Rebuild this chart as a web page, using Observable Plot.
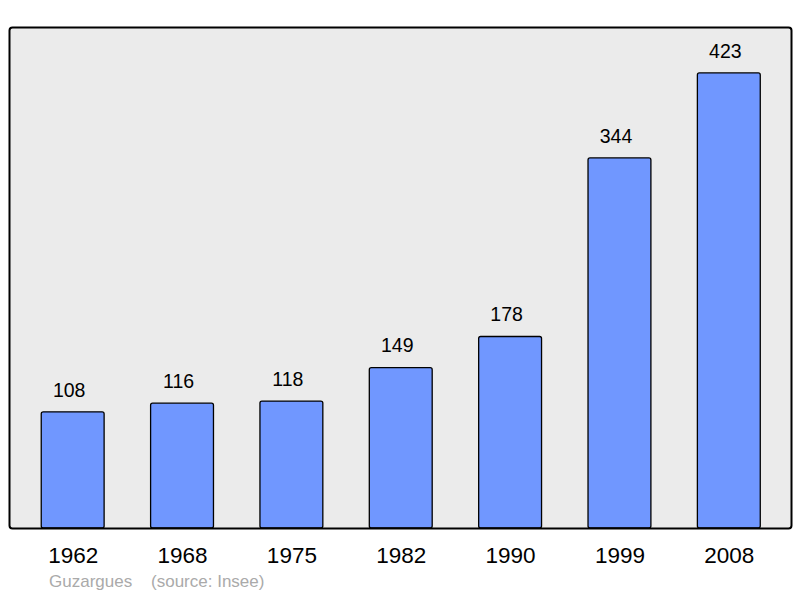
<!DOCTYPE html>
<html>
<head>
<meta charset="utf-8">
<script src="https://cdn.jsdelivr.net/npm/d3@7"></script>
<script src="https://cdn.jsdelivr.net/npm/@observablehq/plot@0.6"></script>
<style>
  html, body { margin: 0; padding: 0; background: #ffffff; }
  #chart { position: relative; width: 800px; height: 598px; }
  #caption { position: absolute; left: 49px; top: 572px; font-family: "Liberation Sans", Arial, sans-serif; font-size: 17px; color: #aaaaaa; white-space: pre; }
</style>
</head>
<body>
<div id="chart"><div id="caption">Guzargues    (source: Insee)</div></div>
<script>
const years = ["1962", "1968", "1975", "1982", "1990", "1999", "2008"];
const population = [108, 116, 118, 149, 178, 344, 423];

const data = years.map((year, i) => ({year, value: population[i]}));

const plot = Plot.plot({
  width: 800,
  height: 570,
  marginTop: 27,
  marginBottom: 42,
  marginLeft: 9,
  marginRight: 9,
  style: {fontFamily: "Liberation Sans, Arial, sans-serif", background: "transparent"},
  x: {domain: years, range: [18, 783.5], round: false, paddingInner: 0.425, paddingOuter: 0.2125, align: 0.5, label: null, axis: null},
  y: {domain: [0, 465.7], axis: null, label: null},
  marks: [
    Plot.frame({fill: "#ebebeb", stroke: "none", rx: 3}),
    Plot.barY(data, {x: "year", y: "value", fill: "#7097ff", stroke: "#000000", strokeWidth: 1.3, rx: 2}),
    Plot.frame({fill: "none", stroke: "#000000", strokeWidth: 2, rx: 3}),
    Plot.text(data, {x: "year", y: "value", text: d => String(d.value), dy: -22, dx: -4, fontSize: 19.5, fill: "#000000"}),
    Plot.axisX({domain: years, tickSize: 0, tickPadding: 19, fontSize: 22.5, color: "#000000", label: null})
  ]
});
document.getElementById("chart").prepend(plot);
</script>
</body>
</html>
